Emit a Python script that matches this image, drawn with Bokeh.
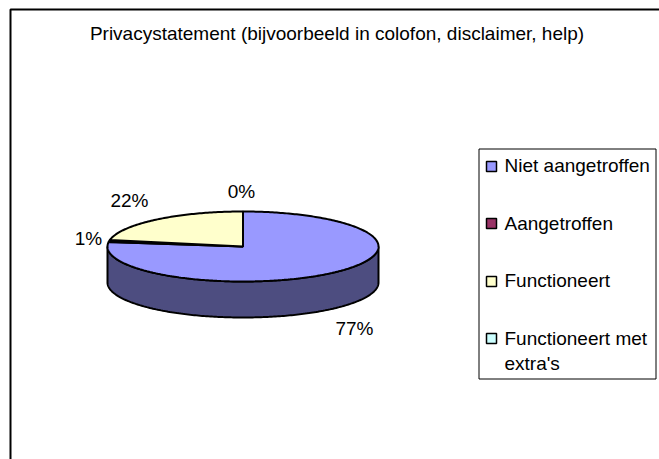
import numpy as np
from bokeh.embed import file_html
from bokeh.models import Range1d
from bokeh.plotting import figure
from bokeh.resources import INLINE
from bokeh.core.properties import value

# Survey result shown by the pie
title_text = "Privacystatement (bijvoorbeeld in colofon, disclaimer, help)"
categories = ["Niet aangetroffen", "Aangetroffen", "Functioneert", "Functioneert met extra's"]
shares = [77, 1, 22, 0]
share_labels = ["77%", "1%", "22%", "0%"]
top_colors = ["#9999FF", "#993366", "#FFFFCC", "#CCFFFF"]
side_colors = ["#4D4D80", "#4D1A33", "#808066", "#668080"]

FONT = value("Liberation Sans")
SIZE = "19px"
cx, cy, rx, ry, depth = 242.5, 246.0, 135.5, 35.0, 36.0

p = figure(width=659, height=459, output_backend="svg", toolbar_location=None,
           x_range=Range1d(0, 659), y_range=Range1d(459, 0), min_border=0,
           outline_line_color=None, background_fill_color="white", border_fill_color="white")
p.axis.visible = False
p.grid.visible = False


def rim(start, stop):
    """Points on the top ellipse, clockwise from twelve o'clock, in percent."""
    t = np.linspace(start, stop, max(2, int(abs(stop - start) * 4) + 2)) / 100 * 2 * np.pi
    return cx + rx * np.sin(t), cy - ry * np.cos(t)


# Chart frame, open along the bottom and right page edges
p.line([10, 10, 659], [459, 9, 9], line_color="black", line_width=2)

# Side wall of the disc: only the front half of the rim is visible
edges = np.cumsum([0] + shares)
sx, sy = rim(25, 75)
p.patch(np.r_[sx, sx[::-1]], np.r_[sy, sy[::-1] + depth],
        fill_color=side_colors[0], line_color="black", line_width=2)

# Top face slices
for i, share in enumerate(shares):
    x, y = rim(edges[i], edges[i + 1])
    p.patch(np.r_[cx, x], np.r_[cy, y], fill_color=top_colors[i],
            line_color="black", line_width=2)

# Percentage labels around the disc
lx = [354, 88, 129, 241]
ly = [328, 238, 200, 191]
p.text(lx, ly, text=share_labels, text_font=FONT, text_font_size=SIZE, text_color="black",
       text_align="center", text_baseline="middle")

# Title
p.text([336.5], [33], text=[title_text], text_font=FONT, text_font_size=SIZE,
       text_color="black", text_align="center", text_baseline="middle")

# Legend box and entries
p.quad(left=[478.5], right=[655.5], top=[148.5], bottom=[378.5], fill_color="white",
       line_color="black", line_width=1)
key_y = [166, 223, 281, 338]
p.quad(left=[486] * 4, right=[496] * 4, top=[y - 5 for y in key_y], bottom=[y + 5 for y in key_y],
       fill_color=top_colors, line_color="black", line_width=1.5)
entry_lines = ["Niet aangetroffen", "Aangetroffen", "Functioneert", "Functioneert met", "extra's"]
entry_y = [165, 223, 280, 338, 363]
p.text([504] * 5, entry_y, text=entry_lines, text_font=FONT, text_font_size=SIZE,
       text_color="black", text_align="left", text_baseline="middle")

open("out.html", "w").write(file_html(p, INLINE))
